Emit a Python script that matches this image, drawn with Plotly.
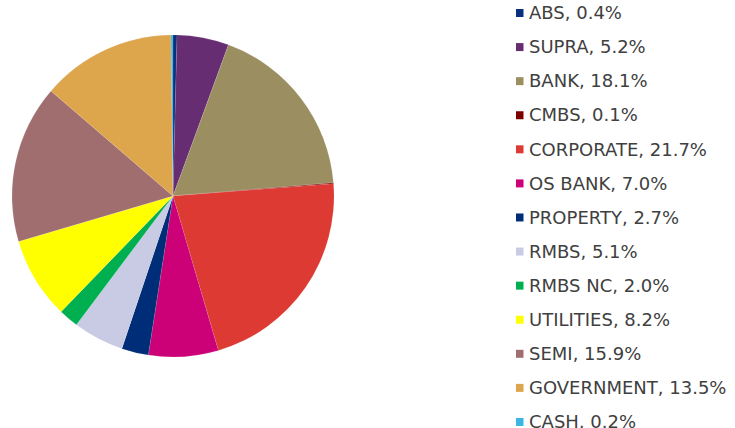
import plotly.graph_objects as go

categories = ["ABS", "SUPRA", "BANK", "CMBS", "CORPORATE", "OS BANK", "PROPERTY",
              "RMBS", "RMBS NC", "UTILITIES", "SEMI", "GOVERNMENT", "CASH"]
values = [0.4, 5.2, 18.1, 0.1, 21.7, 7.0, 2.7, 5.1, 2.0, 8.2, 15.9, 13.5, 0.2]
colors = ["#0a2f7c", "#662d72", "#9b8f62", "#7a0000", "#dc3a33", "#cc0077", "#002d78",
          "#c9cbe5", "#00b050", "#ffff00", "#a06e6e", "#dda54c", "#3bb5e3"]
legend_labels = [f"{c}, {v:.1f}%" for c, v in zip(categories, values)]

W, H = 735, 428
cx, cy, r = 173, 196, 161

fig = go.Figure(go.Pie(
    labels=categories, values=values, sort=False, direction="clockwise", rotation=0,
    marker=dict(colors=colors, line=dict(color="rgba(255,255,255,0.5)", width=0.2)),
    textinfo="none", hoverinfo="label+percent", showlegend=False,
    domain=dict(x=[(cx - r) / W, (cx + r) / W], y=[1 - (cy + r) / H, 1 - (cy - r) / H]),
))

row0, step = 12.7, 34.08
shapes, annotations = [], []
for i, (lab, col) in enumerate(zip(legend_labels, colors)):
    yc = row0 + i * step
    shapes.append(dict(type="rect", xref="paper", yref="paper",
                       x0=516 / W, x1=523.5 / W, y0=1 - (yc + 4.3) / H, y1=1 - (yc - 3.7) / H,
                       fillcolor=col, line=dict(width=0)))
    annotations.append(dict(text=lab, xref="paper", yref="paper", x=527 / W, y=1 - yc / H,
                            xanchor="left", yanchor="middle", showarrow=False,
                            font=dict(family="DejaVu Sans", size=18, color="#404040")))

fig.update_layout(width=W, height=H, margin=dict(l=0, r=0, t=0, b=0),
                  paper_bgcolor="white", plot_bgcolor="white",
                  shapes=shapes, annotations=annotations)
fig.write_html("out.html")
